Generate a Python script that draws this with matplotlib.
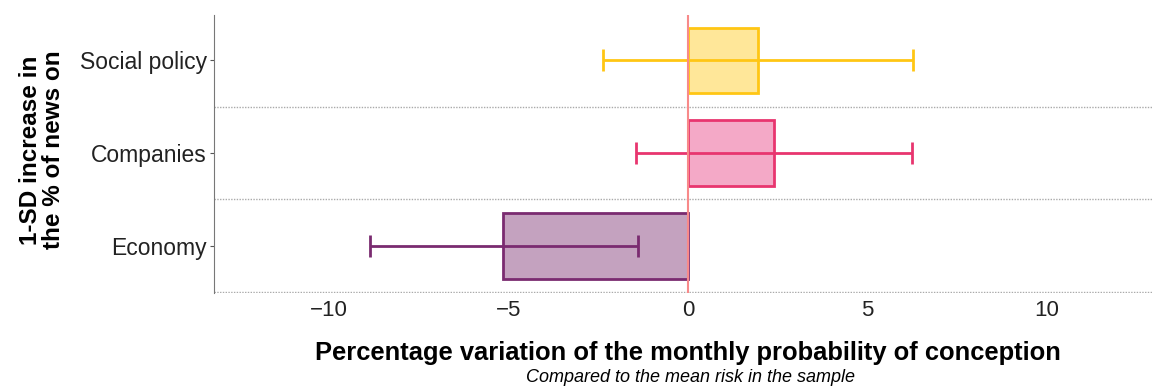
import matplotlib
matplotlib.use("Agg")
import matplotlib.pyplot as plt
import numpy as np

plt.rcParams['font.family'] = ['Liberation Sans', 'DejaVu Sans']

categories = ["Economy", "Companies", "Social policy"]
estimates = [-5.15, 2.40, 1.95]
ci_low = [-8.86, -1.45, -2.37]
ci_high = [-1.39, 6.24, 6.27]
fill_colors = ["#C4A2BF", "#F4A9C7", "#FFE799"]
edge_colors = ["#7A2B70", "#E8356F", "#FFC614"]
x_ticks = [-10, -5, 0, 5, 10]

fig = plt.figure(figsize=(11.53, 3.87), dpi=100)
ax = fig.add_axes([214/1153, 1-293/387, 1-214/1153, (293-15)/387])

y = np.arange(len(categories))
ax.barh(y, estimates, height=0.71, color=fill_colors, edgecolor=edge_colors,
        linewidth=2, zorder=2)
for yi, lo, hi, ec in zip(y, ci_low, ci_high, edge_colors):
    ax.errorbar([(lo + hi) / 2], [yi], xerr=[[(hi - lo) / 2], [(hi - lo) / 2]],
                fmt='none', ecolor=ec, elinewidth=2, capsize=8, capthick=2, zorder=3)

ax.axvline(0, color="#F88A8A", linewidth=1.5, zorder=4)

for yl in [-0.5, 0.5, 1.5]:
    ax.axhline(yl, color="#AAAAAA", linestyle=(0, (1, 1)), linewidth=1, zorder=1)

ax.set_xlim(-13.2, 12.95)
ax.set_ylim(-0.51, 2.49)
ax.set_yticks(y)
ax.set_yticklabels(categories)
ax.set_xticks(x_ticks)
ax.set_xticklabels(["\u221210", "\u22125", "0", "5", "10"])
ax.tick_params(axis='y', labelsize=16.5, length=3, width=0.8, color="#555555", pad=2)
ax.tick_params(axis='x', labelsize=16, length=0, pad=5)
for lab in ax.get_yticklabels() + ax.get_xticklabels():
    lab.set_color("#222222")

for s in ["top", "right", "bottom"]:
    ax.spines[s].set_visible(False)
ax.spines["left"].set_color("#777777")
ax.spines["left"].set_linewidth(0.8)

ax.set_ylabel("1-SD increase in\nthe % of news on", fontsize=17.5, fontweight='bold',
              linespacing=1.0, va='center', ha='center')
ax.yaxis.set_label_coords((42 - 214) / 939, (293 - 150) / 278)
fig.text(688/1153, 1-353/387, "Percentage variation of the monthly probability of conception",
         ha='center', va='center', fontsize=18.4, fontweight='bold')
fig.text(690/1153, 1-378/387, "Compared to the mean risk in the sample",
         ha='center', va='center', fontsize=13, style='italic')

fig.savefig("out.png", dpi=100)
